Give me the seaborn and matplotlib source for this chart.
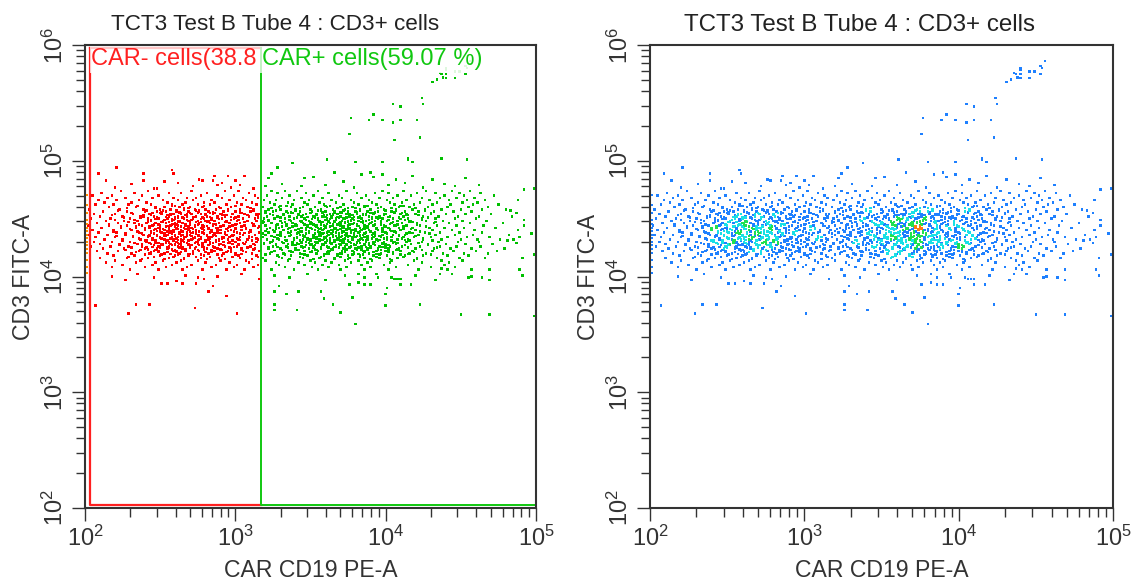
import matplotlib
matplotlib.use("Agg")
import matplotlib.pyplot as plt
import numpy as np
import pandas as pd
import seaborn as sns
from matplotlib.ticker import LogLocator, LogFormatterMathtext, NullFormatter

# values are log10
gate_car = 3.17
cd3_top = 4.74
cd3_step = 0.02
car_rows = [
    [2.24, 2.42, 2.71, 2.93, 3.02, 3.24, 3.33, 3.41, 3.55, 3.74, 3.98, 4.12, 4.27, 4.44, 4.56],
    [2.11, 2.33, 2.56, 2.64, 2.81, 3.09, 3.28, 3.47, 3.62, 3.81, 3.93, 4.02, 4.21, 4.33, 4.49, 4.63],
    [2.05, 2.18, 2.38, 2.49, 2.77, 2.88, 2.99, 3.13, 3.21, 3.36, 3.52, 3.69, 3.87, 4.08, 4.17, 4.39, 4.52, 4.72],
    [2.15, 2.27, 2.45, 2.59, 2.68, 2.74, 2.91, 3.05, 3.15, 3.31, 3.44, 3.58, 3.71, 3.84, 3.96, 4.05, 4.24, 4.36, 4.47, 4.59],
    [2.09, 2.21, 2.36, 2.52, 2.62, 2.72, 2.84, 2.96, 3.07, 3.19, 3.27, 3.39, 3.49, 3.64, 3.77, 3.89, 4.01, 4.14, 4.29, 4.42, 4.54, 4.66],
    [2.13, 2.31, 2.41, 2.55, 2.67, 2.79, 2.86, 3.01, 3.11, 3.23, 3.35, 3.46, 3.56, 3.67, 3.79, 3.91, 4.03, 4.11, 4.23, 4.34, 4.51, 4.61],
    [2.07, 2.19, 2.29, 2.44, 2.58, 2.65, 2.75, 2.83, 2.94, 3.04, 3.14, 3.26, 3.38, 3.48, 3.59, 3.72, 3.82, 3.94, 4.06, 4.19, 4.31, 4.43, 4.58, 4.75],
    [2.16, 2.34, 2.47, 2.53, 2.63, 2.7, 2.78, 2.89, 2.97, 3.08, 3.18, 3.29, 3.37, 3.45, 3.53, 3.61, 3.7, 3.78, 3.86, 3.97, 4.09, 4.16, 4.28, 4.41, 4.55, 4.68],
    [2.03, 2.23, 2.39, 2.5, 2.57, 2.66, 2.73, 2.8, 2.87, 2.95, 3.03, 3.12, 3.22, 3.3, 3.4, 3.5, 3.57, 3.65, 3.73, 3.83, 3.9, 3.99, 4.07, 4.18, 4.26, 4.37, 4.5, 4.64, 4.8],
    [2.12, 2.28, 2.4, 2.48, 2.54, 2.61, 2.69, 2.76, 2.82, 2.92, 3.0, 3.1, 3.2, 3.25, 3.34, 3.43, 3.51, 3.6, 3.66, 3.75, 3.8, 3.88, 3.95, 4.04, 4.13, 4.22, 4.32, 4.45, 4.57],
    [2.06, 2.2, 2.32, 2.43, 2.51, 2.59, 2.64, 2.71, 2.77, 2.85, 2.9, 2.98, 3.06, 3.16, 3.23, 3.32, 3.42, 3.47, 3.54, 3.63, 3.68, 3.74, 3.81, 3.85, 3.92, 4.0, 4.1, 4.2, 4.3, 4.4, 4.53, 4.7],
    [2.1, 2.25, 2.37, 2.46, 2.56, 2.62, 2.68, 2.74, 2.81, 2.88, 2.93, 3.02, 3.09, 3.15, 3.21, 3.28, 3.36, 3.44, 3.52, 3.58, 3.64, 3.7, 3.76, 3.83, 3.89, 3.96, 4.03, 4.12, 4.25, 4.35, 4.48, 4.62, 4.84],
    [2.04, 2.17, 2.3, 2.42, 2.49, 2.55, 2.6, 2.66, 2.72, 2.79, 2.84, 2.91, 2.99, 3.05, 3.13, 3.19, 3.26, 3.33, 3.39, 3.46, 3.55, 3.61, 3.67, 3.72, 3.78, 3.84, 3.91, 3.98, 4.05, 4.15, 4.24, 4.33, 4.46, 4.6],
    [2.14, 2.26, 2.35, 2.44, 2.52, 2.58, 2.63, 2.69, 2.75, 2.8, 2.86, 2.94, 3.01, 3.08, 3.14, 3.22, 3.3, 3.37, 3.43, 3.49, 3.56, 3.62, 3.66, 3.71, 3.77, 3.82, 3.87, 3.93, 4.01, 4.08, 4.17, 4.27, 4.38, 4.51, 4.67],
    [2.08, 2.22, 2.33, 2.41, 2.47, 2.54, 2.6, 2.65, 2.7, 2.76, 2.83, 2.89, 2.96, 3.03, 3.11, 3.18, 3.24, 3.31, 3.38, 3.45, 3.51, 3.57, 3.63, 3.69, 3.73, 3.79, 3.85, 3.9, 3.97, 4.04, 4.11, 4.21, 4.32, 4.42, 4.56, 4.78],
    [2.02, 2.16, 2.28, 2.38, 2.45, 2.5, 2.57, 2.62, 2.67, 2.73, 2.78, 2.85, 2.92, 2.98, 3.06, 3.12, 3.2, 3.27, 3.34, 3.41, 3.48, 3.54, 3.59, 3.65, 3.7, 3.75, 3.81, 3.86, 3.92, 3.99, 4.06, 4.14, 4.23, 4.34, 4.47, 4.65],
    [2.11, 2.24, 2.34, 2.43, 2.49, 2.56, 2.61, 2.66, 2.71, 2.77, 2.82, 2.87, 2.95, 3.0, 3.07, 3.15, 3.23, 3.29, 3.36, 3.44, 3.5, 3.55, 3.6, 3.66, 3.72, 3.76, 3.83, 3.88, 3.94, 4.02, 4.09, 4.18, 4.29, 4.39, 4.52, 4.73],
    [2.05, 2.19, 2.31, 2.4, 2.46, 2.53, 2.59, 2.64, 2.69, 2.74, 2.79, 2.84, 2.9, 2.97, 3.04, 3.1, 3.17, 3.25, 3.32, 3.4, 3.47, 3.53, 3.58, 3.64, 3.68, 3.74, 3.78, 3.84, 3.89, 3.95, 4.03, 4.1, 4.2, 4.31, 4.44, 4.59, 4.88],
    [2.09, 2.21, 2.36, 2.44, 2.51, 2.57, 2.63, 2.68, 2.72, 2.78, 2.83, 2.88, 2.93, 3.01, 3.09, 3.16, 3.22, 3.3, 3.35, 3.42, 3.49, 3.56, 3.61, 3.67, 3.71, 3.77, 3.82, 3.87, 3.93, 4.0, 4.07, 4.16, 4.26, 4.36, 4.49, 4.64],
    [2.03, 2.15, 2.27, 2.39, 2.48, 2.55, 2.6, 2.65, 2.7, 2.75, 2.81, 2.86, 2.94, 2.99, 3.05, 3.13, 3.2, 3.28, 3.37, 3.43, 3.52, 3.57, 3.62, 3.69, 3.73, 3.79, 3.85, 3.91, 3.98, 4.05, 4.13, 4.22, 4.33, 4.46, 4.58, 4.82],
    [2.07, 2.2, 2.32, 2.42, 2.5, 2.58, 2.62, 2.67, 2.73, 2.77, 2.84, 2.91, 2.96, 3.03, 3.11, 3.18, 3.26, 3.33, 3.41, 3.46, 3.54, 3.59, 3.65, 3.7, 3.75, 3.8, 3.86, 3.92, 3.97, 4.04, 4.12, 4.19, 4.3, 4.41, 4.54, 4.69],
    [2.13, 2.25, 2.37, 2.45, 2.53, 2.59, 2.64, 2.71, 2.76, 2.82, 2.89, 2.95, 3.02, 3.08, 3.15, 3.21, 3.29, 3.39, 3.45, 3.5, 3.56, 3.63, 3.68, 3.72, 3.78, 3.83, 3.88, 3.94, 4.01, 4.08, 4.15, 4.25, 4.37, 4.5, 4.61, 4.76],
    [2.06, 2.18, 2.3, 2.41, 2.47, 2.54, 2.61, 2.66, 2.74, 2.8, 2.87, 2.92, 3.0, 3.07, 3.14, 3.24, 3.31, 3.38, 3.47, 3.53, 3.6, 3.66, 3.71, 3.76, 3.81, 3.87, 3.93, 3.99, 4.06, 4.14, 4.24, 4.35, 4.48, 4.62],
    [2.1, 2.23, 2.35, 2.44, 2.52, 2.57, 2.63, 2.69, 2.75, 2.83, 2.9, 2.98, 3.06, 3.12, 3.19, 3.27, 3.35, 3.42, 3.51, 3.58, 3.64, 3.69, 3.74, 3.79, 3.86, 3.92, 3.98, 4.07, 4.17, 4.28, 4.4, 4.53, 4.71],
    [2.04, 2.17, 2.29, 2.38, 2.49, 2.56, 2.62, 2.7, 2.78, 2.85, 2.93, 3.01, 3.1, 3.17, 3.25, 3.34, 3.44, 3.52, 3.61, 3.67, 3.73, 3.77, 3.84, 3.9, 3.96, 4.03, 4.11, 4.23, 4.36, 4.47, 4.63],
    [2.12, 2.26, 2.4, 2.48, 2.55, 2.65, 2.73, 2.81, 2.88, 2.97, 3.04, 3.13, 3.22, 3.3, 3.4, 3.49, 3.57, 3.65, 3.72, 3.8, 3.88, 3.95, 4.02, 4.09, 4.2, 4.32, 4.43, 4.57, 4.79],
    [2.08, 2.22, 2.36, 2.46, 2.59, 2.67, 2.76, 2.86, 2.95, 3.05, 3.16, 3.26, 3.36, 3.46, 3.55, 3.63, 3.71, 3.78, 3.85, 3.94, 4.0, 4.1, 4.18, 4.31, 4.45, 4.6, 4.74],
    [2.15, 2.31, 2.43, 2.53, 2.63, 2.72, 2.82, 2.92, 3.0, 3.11, 3.23, 3.32, 3.43, 3.54, 3.62, 3.7, 3.79, 3.89, 3.97, 4.05, 4.16, 4.27, 4.38, 4.52, 4.68],
    [2.19, 2.33, 2.5, 2.6, 2.69, 2.79, 2.91, 3.02, 3.14, 3.28, 3.37, 3.48, 3.59, 3.68, 3.75, 3.83, 3.92, 4.01, 4.13, 4.25, 4.41, 4.55],
    [2.1, 2.28, 2.42, 2.56, 2.66, 2.77, 2.89, 3.03, 3.18, 3.31, 3.45, 3.56, 3.66, 3.76, 3.86, 3.96, 4.08, 4.21, 4.34, 4.49, 4.66],
    [2.2, 2.37, 2.52, 2.64, 2.75, 2.9, 3.07, 3.2, 3.35, 3.5, 3.6, 3.73, 3.82, 3.91, 4.04, 4.19, 4.37, 4.51],
    [2.14, 2.34, 2.47, 2.61, 2.8, 2.96, 3.09, 3.27, 3.42, 3.53, 3.64, 3.77, 3.88, 4.03, 4.24, 4.42],
    [2.25, 2.45, 2.58, 2.71, 2.87, 3.01, 3.15, 3.29, 3.46, 3.58, 3.69, 3.84, 3.99, 4.15, 4.39],
    [2.18, 2.4, 2.54, 2.68, 2.84, 2.99, 3.12, 3.33, 3.51, 3.62, 3.74, 3.9, 4.07, 4.3, 4.46],
    [2.3, 2.49, 2.65, 2.78, 2.94, 3.06, 3.24, 3.39, 3.55, 3.7, 3.86, 4.02, 4.22],
]

# denser middle of the cloud, rows sit between the ones above
core_top = 4.61
core_rows = [
    [2.35, 2.58, 2.6, 2.79, 3.0, 3.3, 3.34, 3.6, 3.63, 3.86, 3.88, 4.1, 4.12],
    [2.28, 2.47, 2.66, 2.69, 2.9, 3.1, 3.24, 3.43, 3.68, 3.75, 3.8, 3.95, 4.04, 4.2],
    [2.22, 2.41, 2.52, 2.61, 2.74, 2.76, 2.95, 3.12, 3.27, 3.4, 3.55, 3.57, 3.72, 3.83, 4.0, 4.07, 4.26],
    [2.31, 2.45, 2.5, 2.64, 2.7, 2.83, 2.86, 3.04, 3.2, 3.35, 3.38, 3.5, 3.66, 3.71, 3.9, 3.92, 4.11, 4.3],
    [2.18, 2.39, 2.55, 2.57, 2.67, 2.8, 2.92, 2.94, 3.08, 3.25, 3.32, 3.45, 3.59, 3.61, 3.78, 3.85, 3.99, 4.15, 4.22],
    [2.26, 2.37, 2.48, 2.62, 2.65, 2.72, 2.78, 2.88, 3.0, 3.15, 3.3, 3.41, 3.53, 3.64, 3.69, 3.74, 3.82, 3.94, 3.96, 4.09, 4.28],
    [2.2, 2.33, 2.44, 2.53, 2.59, 2.68, 2.71, 2.84, 2.97, 3.02, 3.22, 3.36, 3.47, 3.55, 3.6, 3.67, 3.77, 3.79, 3.89, 4.02, 4.13, 4.24],
    [2.29, 2.42, 2.51, 2.56, 2.63, 2.74, 2.77, 2.81, 2.93, 3.06, 3.19, 3.33, 3.44, 3.5, 3.58, 3.62, 3.7, 3.73, 3.84, 3.91, 4.05, 4.18, 4.33],
    [2.16, 2.36, 2.46, 2.49, 2.58, 2.61, 2.7, 2.75, 2.85, 2.87, 3.0, 3.12, 3.28, 3.4, 3.46, 3.52, 3.57, 3.65, 3.68, 3.76, 3.81, 3.93, 3.97, 4.08, 4.21],
    [2.24, 2.34, 2.43, 2.54, 2.6, 2.64, 2.69, 2.73, 2.79, 2.9, 2.96, 3.04, 3.16, 3.31, 3.38, 3.48, 3.54, 3.6, 3.63, 3.71, 3.75, 3.86, 3.88, 4.0, 4.12, 4.27],
    [2.3, 2.4, 2.47, 2.52, 2.56, 2.62, 2.67, 2.72, 2.78, 2.82, 2.94, 3.07, 3.21, 3.35, 3.42, 3.51, 3.56, 3.59, 3.66, 3.7, 3.74, 3.8, 3.85, 3.94, 4.03, 4.17],
    [2.19, 2.35, 2.44, 2.5, 2.55, 2.59, 2.65, 2.7, 2.76, 2.84, 2.88, 2.99, 3.1, 3.26, 3.37, 3.44, 3.49, 3.55, 3.62, 3.65, 3.72, 3.77, 3.83, 3.9, 3.98, 4.06, 4.23],
    [2.27, 2.38, 2.46, 2.53, 2.58, 2.63, 2.68, 2.74, 2.79, 2.86, 2.93, 3.03, 3.18, 3.3, 3.41, 3.47, 3.53, 3.58, 3.64, 3.69, 3.74, 3.79, 3.86, 3.92, 4.01, 4.14, 4.29],
    [2.21, 2.32, 2.42, 2.48, 2.54, 2.6, 2.64, 2.71, 2.75, 2.81, 2.87, 2.97, 3.09, 3.24, 3.36, 3.46, 3.52, 3.57, 3.61, 3.67, 3.71, 3.76, 3.81, 3.88, 3.96, 4.09, 4.2],
    [2.36, 2.45, 2.51, 2.57, 2.61, 2.66, 2.72, 2.77, 2.83, 2.91, 3.01, 3.14, 3.28, 3.39, 3.48, 3.54, 3.59, 3.63, 3.68, 3.73, 3.78, 3.84, 3.91, 3.99, 4.11, 4.25],
    [2.25, 2.4, 2.47, 2.55, 2.59, 2.65, 2.69, 2.75, 2.8, 2.89, 2.98, 3.11, 3.25, 3.34, 3.43, 3.5, 3.56, 3.61, 3.66, 3.7, 3.75, 3.82, 3.87, 3.95, 4.04, 4.16, 4.31],
    [2.33, 2.43, 2.49, 2.54, 2.62, 2.68, 2.73, 2.78, 2.85, 2.95, 3.05, 3.19, 3.32, 3.41, 3.49, 3.55, 3.6, 3.64, 3.72, 3.77, 3.83, 3.89, 3.98, 4.08, 4.22],
    [2.23, 2.38, 2.46, 2.52, 2.58, 2.64, 2.71, 2.76, 2.82, 2.92, 3.02, 3.13, 3.27, 3.4, 3.47, 3.53, 3.58, 3.67, 3.74, 3.8, 3.86, 3.93, 4.02, 4.13, 4.28],
    [2.31, 2.41, 2.5, 2.56, 2.63, 2.7, 2.79, 2.86, 2.96, 3.08, 3.22, 3.35, 3.45, 3.52, 3.62, 3.69, 3.76, 3.82, 3.9, 4.0, 4.15, 4.34],
    [2.27, 2.37, 2.47, 2.6, 2.67, 2.75, 2.84, 2.91, 3.04, 3.17, 3.31, 3.42, 3.54, 3.65, 3.73, 3.81, 3.88, 3.97, 4.07, 4.24],
    [2.34, 2.44, 2.55, 2.64, 2.72, 2.8, 2.94, 3.07, 3.24, 3.38, 3.5, 3.61, 3.71, 3.79, 3.92, 4.05, 4.19],
    [2.4, 2.51, 2.62, 2.69, 2.77, 2.88, 3.0, 3.2, 3.33, 3.46, 3.59, 3.68, 3.78, 3.85, 3.96, 4.1, 4.3],
    [2.29, 2.46, 2.59, 2.74, 2.83, 2.98, 3.15, 3.29, 3.43, 3.57, 3.7, 3.83, 3.94, 4.12],
    [2.38, 2.53, 2.66, 2.81, 2.93, 3.11, 3.36, 3.52, 3.66, 3.75, 3.9, 4.03, 4.21],
]

# the two thickest patches, one each side of the gate
peak_top = 4.555
peak_rows = [
    [2.51, 2.63, 2.75, 2.85, 3.03, 3.37, 3.58, 3.7, 3.81, 3.93, 4.06],
    [2.44, 2.57, 2.68, 2.8, 2.91, 3.14, 3.42, 3.54, 3.65, 3.76, 3.87, 3.99, 4.14],
    [2.39, 2.54, 2.6, 2.73, 2.83, 2.97, 3.29, 3.48, 3.6, 3.68, 3.79, 3.91, 4.02],
    [2.47, 2.58, 2.66, 2.77, 2.89, 3.05, 3.39, 3.51, 3.63, 3.73, 3.84, 3.95, 4.1],
    [2.42, 2.52, 2.62, 2.7, 2.82, 2.94, 3.18, 3.44, 3.56, 3.66, 3.75, 3.85, 3.97, 4.16],
    [2.36, 2.49, 2.59, 2.67, 2.76, 2.86, 3.01, 3.34, 3.5, 3.61, 3.7, 3.78, 3.89, 4.03],
    [2.45, 2.55, 2.64, 2.73, 2.81, 2.92, 3.13, 3.4, 3.53, 3.64, 3.72, 3.82, 3.92, 4.07],
    [2.4, 2.5, 2.61, 2.69, 2.78, 2.88, 3.0, 3.27, 3.47, 3.57, 3.67, 3.76, 3.86, 3.98, 4.12],
    [2.48, 2.57, 2.65, 2.74, 2.84, 2.95, 3.2, 3.43, 3.55, 3.62, 3.71, 3.8, 3.9, 4.04],
    [2.37, 2.46, 2.56, 2.63, 2.71, 2.79, 2.9, 3.06, 3.36, 3.49, 3.59, 3.69, 3.77, 3.87, 4.0, 4.18],
    [2.43, 2.53, 2.6, 2.68, 2.76, 2.85, 2.98, 3.3, 3.45, 3.56, 3.65, 3.74, 3.83, 3.93, 4.09],
    [2.5, 2.58, 2.66, 2.73, 2.82, 2.92, 3.09, 3.41, 3.52, 3.6, 3.69, 3.78, 3.88, 4.01],
    [2.41, 2.54, 2.62, 2.7, 2.8, 2.87, 3.03, 3.33, 3.48, 3.58, 3.68, 3.75, 3.85, 3.96, 4.13],
    [2.47, 2.56, 2.64, 2.75, 2.83, 2.96, 3.23, 3.44, 3.54, 3.63, 3.72, 3.81, 3.92, 4.05],
    [2.38, 2.51, 2.6, 2.69, 2.78, 2.89, 3.02, 3.38, 3.5, 3.59, 3.7, 3.79, 3.89, 4.0],
    [2.45, 2.55, 2.65, 2.74, 2.85, 2.99, 3.28, 3.46, 3.57, 3.66, 3.76, 3.87, 3.98, 4.11],
    [2.42, 2.58, 2.67, 2.79, 2.9, 3.12, 3.4, 3.53, 3.64, 3.74, 3.84, 3.95, 4.08],
    [2.49, 2.61, 2.72, 2.84, 2.97, 3.37, 3.51, 3.62, 3.73, 3.86, 4.02],
    [2.44, 2.57, 2.7, 2.82, 3.04, 3.44, 3.6, 3.71, 3.82, 3.94, 4.15],
]

# scattered top and bottom edge of the cloud
fringe_car = [2.2, 2.31, 2.48, 2.53, 2.72, 2.76, 2.97, 3.0, 3.12, 3.22, 3.31, 3.44, 3.52, 3.6, 3.66, 3.72, 3.79,
              3.84, 3.9, 3.92, 3.98, 4.02, 4.07, 4.13, 4.18, 4.25, 4.31, 4.39, 4.46, 4.53, 4.62,
              2.18, 2.35, 2.46, 2.67, 2.79, 2.88, 3.04, 3.16, 3.26, 3.36, 3.48, 3.6, 3.73, 3.86, 3.94, 4.08, 4.2, 4.33, 4.44, 4.55]
fringe_cd3 = [4.77, 4.8, 4.76, 4.82, 4.78, 4.84, 4.77, 4.83, 4.76, 4.85, 4.8, 4.78, 4.86, 4.79, 4.9, 4.82, 4.77,
              4.88, 4.9, 4.86, 4.88, 4.79, 4.84, 4.81, 4.87, 4.77, 4.84, 4.8, 4.78, 4.85, 4.79,
              4.0, 4.02, 3.99, 4.01, 3.98, 4.0, 4.02, 3.98, 4.01, 3.99, 4.02, 3.97, 4.01, 3.99, 4.02, 3.98, 4.01, 3.97, 4.02, 3.99]

# points outside the main cloud
lone_car = [4.31, 4.34, 4.38, 4.37, 4.40, 4.40, 4.40, 4.40, 4.46, 4.46, 4.49, 4.53, 4.53, 4.54, 4.56, 4.36,
            4.24, 4.25, 4.05, 4.10, 3.92, 3.77, 3.89, 3.98, 4.05, 4.10, 4.21, 3.76, 4.06, 4.23,
            3.61, 3.80, 3.98, 4.15, 4.15, 4.18, 4.37, 4.54,
            2.07, 2.29, 2.34, 2.43, 2.73, 3.01, 2.94, 2.82, 2.85, 2.27, 2.51, 2.55, 2.61, 2.65, 2.74, 2.75,
            3.26, 3.26, 3.26, 3.41, 3.34, 3.42, 3.29,
            2.21, 2.09, 2.14, 2.39, 2.39, 2.58, 2.59, 2.62, 2.46, 2.78, 2.86, 2.85, 2.95, 3.06, 2.91, 2.88, 3.03,
            3.28, 3.24, 3.38, 3.46, 3.20,
            4.99, 4.99, 4.99, 4.92, 4.88, 4.83, 4.87, 4.92, 4.92, 4.97, 4.85, 4.89, 4.81, 4.87, 4.91, 4.89, 4.91,
            4.69, 4.69, 4.64, 4.57, 4.57, 4.50, 4.69, 4.23, 4.00, 3.80, 3.70, 3.65, 3.59, 3.57, 3.78, 4.00, 4.01,
            4.17, 4.10, 4.06, 4.10, 4.04, 4.36, 4.41, 4.37, 3.95, 3.90, 3.86, 3.82, 3.82, 3.76]
lone_cd3 = [5.68, 5.70, 5.72, 5.75, 5.80, 5.785, 5.75, 5.715, 5.77, 5.715, 5.77, 5.82, 5.75, 5.80, 5.86, 5.76,
            5.54, 5.49, 5.49, 5.47, 5.40, 5.37, 5.35, 5.35, 5.33, 5.35, 5.35, 5.23, 5.18, 5.20,
            5.01, 4.99, 4.99, 5.02, 5.01, 4.99, 5.02, 5.01,
            3.75, 3.68, 3.76, 3.76, 3.73, 3.68, 3.83, 3.87, 3.92, 3.97, 3.94, 3.94, 3.96, 3.94, 3.94, 3.99,
            3.76, 3.71, 3.87, 3.71, 3.85, 3.87, 3.92,
            4.94, 4.89, 4.83, 4.89, 4.83, 4.92, 4.89, 4.81, 4.76, 4.83, 4.87, 4.83, 4.87, 4.87, 4.81, 4.79, 4.79,
            4.94, 4.89, 4.98, 4.85, 4.78,
            4.76, 4.19, 3.66, 4.75, 4.66, 4.57, 4.55, 4.49, 4.44, 4.37, 4.32, 4.34, 4.31, 4.29, 4.16, 4.06, 4.01,
            4.06, 3.97, 3.99, 4.00, 4.06, 3.67, 3.67, 3.76, 3.75, 3.59, 3.69, 3.76, 3.81, 3.87, 3.82, 3.85, 3.90,
            3.93, 3.93, 3.98, 3.98, 3.99, 4.02, 4.06, 4.07, 3.99, 3.93, 3.93, 3.95, 4.02, 3.93]

# points sitting on the left axis
edge_cd3 = [4.70, 4.62, 4.55, 4.49, 4.45, 4.42, 4.39, 4.36, 4.33, 4.30, 4.27, 4.24, 4.20, 4.14, 4.08, 4.03]

title = "TCT3 Test B Tube 4 : CD3+ cells"
x_label = "CAR CD19 PE-A"
y_label = "CD3 FITC-A"
neg_label = "CAR- cells(38.8"
pos_label = "CAR+ cells(59.07 %)"

car = []
cd3 = []
for rows, top in ((car_rows, cd3_top), (core_rows, core_top), (peak_rows, peak_top)):
    for i, row in enumerate(rows):
        for v in row:
            car.append(v)
            cd3.append(top - i * cd3_step)
car = car + fringe_car + lone_car
cd3 = cd3 + fringe_cd3 + lone_cd3

df = pd.DataFrame({"car": 10.0 ** np.array(car), "cd3": 10.0 ** np.array(cd3)})
df["gate"] = np.where(np.array(car) < gate_car, "neg", "pos")

# pseudo colour from how many points share a small bin
x_bin = (np.array(car) / 0.04).astype(int)
y_bin = (np.array(cd3) / 0.04).astype(int)
pairs = pd.Series(list(zip(x_bin, y_bin)))
counts = pairs.map(pairs.value_counts()).values
df["density"] = np.select([counts >= 7, counts >= 5, counts >= 4], ["hot", "green", "cyan"], "blue")
df["rank"] = counts
df = df.sort_values("rank")

plt.rcParams["font.family"] = ["Liberation Sans", "DejaVu Sans"]
plt.rcParams["mathtext.default"] = "regular"

W, H = 1138, 582
fig = plt.figure(figsize=(W / 100, H / 100), dpi=100)
ax1 = fig.add_axes([85 / W, 1 - 508 / H, 451 / W, 463 / H])
ax2 = fig.add_axes([650 / W, 1 - 508 / H, 463 / W, 463 / H])

sns.scatterplot(data=df, x="car", y="cd3", hue="gate", hue_order=["neg", "pos"],
                palette=["#ff0000", "#00c000"], s=3.2, marker="s", linewidth=0,
                legend=False, ax=ax1, clip_on=True, zorder=2)
ax1.scatter([10 ** 2.01] * len(edge_cd3), 10.0 ** np.array(edge_cd3), s=3, marker="s",
            color="#ff9000", linewidth=0, zorder=2)

sns.scatterplot(data=df, x="car", y="cd3", hue="density", hue_order=["blue", "cyan", "green", "hot"],
                palette=["#1e80ff", "#19e0e6", "#20e050", "#ff7a10"], s=3.2, marker="s", linewidth=0,
                legend=False, ax=ax2, zorder=2)
ax2.scatter([10 ** 2.01] * len(edge_cd3), 10.0 ** np.array(edge_cd3), s=3, marker="s",
            color="#1e80ff", linewidth=0, zorder=2)

# gates
neg_x, pos_x, gate_low, gate_high = 10 ** 2.033, 10 ** gate_car, 10 ** 2.025, 10 ** 5.975
ax1.plot([neg_x, neg_x, pos_x], [gate_high, gate_low, gate_low], color="#ff2020", lw=1.6, zorder=3)
ax1.plot([neg_x, pos_x], [gate_high, gate_high], color="#ff2020", lw=1.6, zorder=3)
ax1.plot([pos_x, pos_x, 1e5], [gate_high, gate_low, gate_low], color="#10c810", lw=1.4, zorder=3)

ax1.axvspan(neg_x, 10 ** 3.175, ymin=0.94, ymax=0.998, facecolor="white", alpha=0.75, linewidth=0, zorder=4)
ax1.text(10 ** 2.04, 10 ** 5.875, neg_label, color="#ff2020", fontsize=17, va="center", zorder=5)
ax1.axvspan(10 ** 3.175, 10 ** 4.72, ymin=0.94, ymax=0.998, facecolor="white", alpha=0.88, linewidth=0, zorder=6)
ax1.text(10 ** 3.18, 10 ** 5.875, pos_label, color="#10c810", fontsize=17, va="center", zorder=7)

for ax, title_size, title_x in ((ax1, 16.2, 275), (ax2, 17.4, 859)):
    ax.set_xscale("log")
    ax.set_yscale("log")
    ax.set_xlim(1e2, 1e5)
    ax.set_ylim(1e2, 1e6)
    ax.set_xlabel(x_label, fontsize=16.6, color="#333333", labelpad=6)
    ax.set_ylabel(y_label, fontsize=16.6, color="#333333", labelpad=5)
    fig.text(title_x / W, 1 - 25 / H, title, fontsize=title_size, color="#222222", ha="center", va="center")
    for axis in (ax.xaxis, ax.yaxis):
        axis.set_major_locator(LogLocator(base=10, numticks=10))
        axis.set_minor_locator(LogLocator(base=10, subs=np.arange(2, 10), numticks=12))
        axis.set_major_formatter(LogFormatterMathtext())
        axis.set_minor_formatter(NullFormatter())
    ax.tick_params(which="major", length=9.5, width=1.0, color="#333333", labelsize=17, labelcolor="#333333", pad=3)
    ax.tick_params(which="minor", length=6.5, width=1.0, color="#333333")
    for label in ax.get_yticklabels():
        label.set_rotation(90)
        label.set_va("center")
    for side in ax.spines.values():
        side.set_linewidth(1.5)
        side.set_color("#333333")
        side.set_zorder(10)

fig.savefig("out.png", dpi=100)
